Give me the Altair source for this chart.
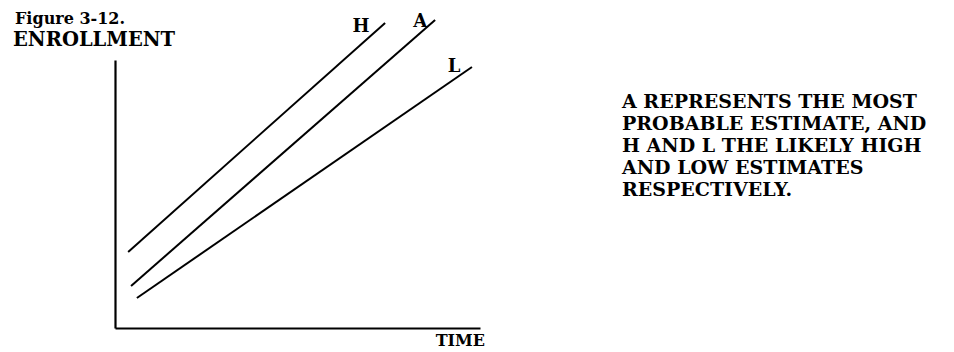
import altair as alt
import pandas as pd

# Data (time and enrollment in arbitrary units)
series = ["H", "A", "L"]
t_start = [0.36, 0.44, 0.60]
t_end = [7.40, 8.77, 9.78]
e_start = [2.84, 1.57, 1.12]
e_end = [11.38, 11.49, 9.74]

label_t = [6.74, 8.36, 9.29]
label_e = [11.23, 11.42, 9.74]

note_lines = [
    "A REPRESENTS THE MOST",
    "PROBABLE ESTIMATE, AND",
    "H AND L THE LIKELY HIGH",
    "AND LOW ESTIMATES",
    "RESPECTIVELY.",
]

rows = []
for s, t0, t1, e0, e1 in zip(series, t_start, t_end, e_start, e_end):
    rows.append({"series": s, "time": t0, "enrollment": e0})
    rows.append({"series": s, "time": t1, "enrollment": e1})
lines_df = pd.DataFrame(rows)
labels_df = pd.DataFrame({"series": series, "time": label_t, "enrollment": label_e})

FONT = "DejaVu Serif"

xs = alt.Scale(domain=[0, 10], nice=False, zero=False)
ys = alt.Scale(domain=[0, 10], nice=False, zero=False)

x_axis = alt.Axis(domain=True, domainColor="black", domainWidth=2.2, ticks=False,
                  labels=False, grid=False, title=None)
y_axis = alt.Axis(domain=True, domainColor="black", domainWidth=2.2, ticks=False,
                  labels=False, grid=False, title=None)

lines = alt.Chart(lines_df).mark_line(color="black", strokeWidth=2, clip=False).encode(
    x=alt.X("time:Q", scale=xs, axis=x_axis),
    y=alt.Y("enrollment:Q", scale=ys, axis=y_axis),
    detail="series:N",
)

labels = alt.Chart(labels_df).mark_text(
    font=FONT, fontWeight="bold", fontSize=18, color="black", baseline="middle", align="center"
).encode(x=alt.X("time:Q", scale=xs), y=alt.Y("enrollment:Q", scale=ys), text="series:N")


def static_text(txt, x, y, size, align="left", weight="bold"):
    return alt.Chart(pd.DataFrame({"t": [txt]})).mark_text(
        font=FONT, fontWeight=weight, fontSize=size, color="black", baseline="middle", align=align
    ).encode(x=alt.value(x), y=alt.value(y), text="t:N")


note_layers = [
    static_text(txt, 507, 42 + 22 * i, 19) for i, txt in enumerate(note_lines)
]

fig_title = static_text("Figure 3-12.", -100, -41, 16)
enroll = static_text("ENROLLMENT", -102, -20, 19.5)
time_lbl = static_text("TIME", 370, 281, 16, align="right")

chart = alt.layer(lines, labels, *note_layers, fig_title, enroll, time_lbl).properties(
    width=365,
    height=268,
    autosize=alt.AutoSizeParams(type="none"),
    padding={"left": 107, "top": 52, "right": 466, "bottom": 26},
    background="white",
).configure_view(stroke=None)

chart.save("out.html", embed_options={"renderer": "svg", "actions": False})
